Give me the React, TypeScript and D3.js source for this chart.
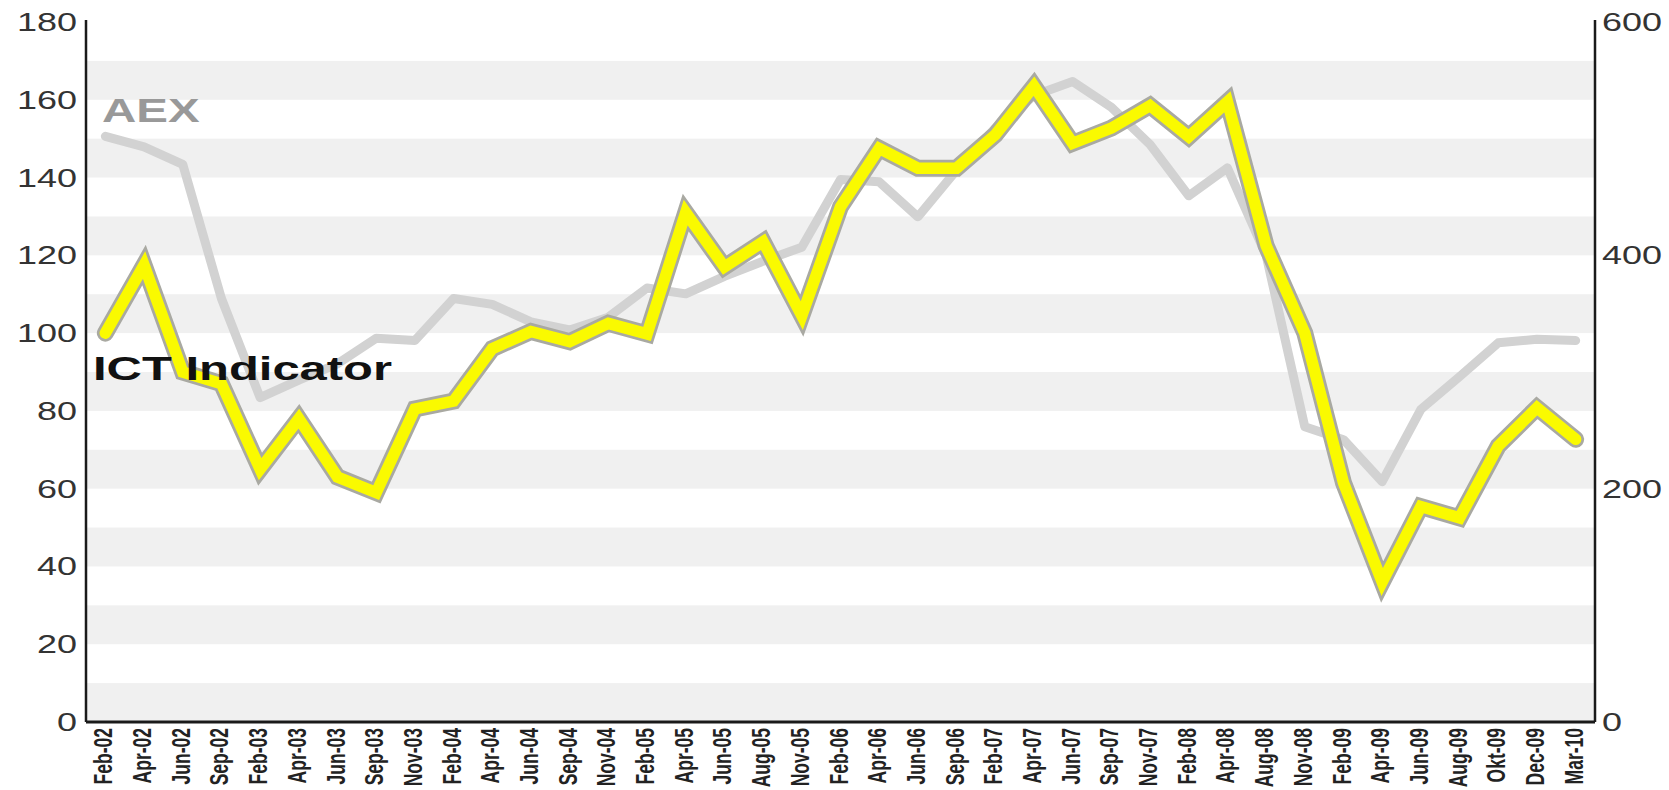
import React from "react";
import * as d3 from "d3";

// categories along the bottom
const months = [
  "Feb-02", "Apr-02", "Jun-02", "Sep-02", "Feb-03", "Apr-03", "Jun-03", "Sep-03",
  "Nov-03", "Feb-04", "Apr-04", "Jun-04", "Sep-04", "Nov-04", "Feb-05", "Apr-05",
  "Jun-05", "Aug-05", "Nov-05", "Feb-06", "Apr-06", "Jun-06", "Sep-06", "Feb-07",
  "Apr-07", "Jun-07", "Sep-07", "Nov-07", "Feb-08", "Apr-08", "Aug-08", "Nov-08",
  "Feb-09", "Apr-09", "Jun-09", "Aug-09", "Okt-09", "Dec-09", "Mar-10",
];

// ICT Indicator (left axis)
const ictValues = [
  100, 117.5, 90, 87, 65, 78, 63, 59,
  80.5, 82.5, 96, 100.4, 97.8, 102.5, 99.8, 131,
  117, 123.5, 104.5, 132.5, 147.5, 142.4, 142.4, 151,
  163.5, 148.8, 152.7, 158.5, 150.5, 159.5, 122.5, 100,
  61.5, 36, 55.4, 52.5, 71, 80.8, 72.7,
];

// AEX (right axis)
const aexValues = [
  502, 493, 478, 363, 278, 293, 307, 329,
  327, 363, 358, 343, 336, 347, 372, 367,
  382, 395, 407, 465, 463, 433, 473, 509,
  537, 549, 527, 495, 451, 475, 400, 253,
  242, 206, 268, 296, 325, 328, 327,
];

const leftTicks = [0, 20, 40, 60, 80, 100, 120, 140, 160, 180];
const rightTicks = [0, 200, 400, 600];
const bandStarts = [0, 20, 40, 60, 80, 100, 120, 140, 160];

const W = 1669;
const H = 790;
const left = 86;
const right = 1595;
const top = 22;
const bottom = 722;
const stretch = 1.44; // the original picture is wide-stretched
const font = "'Liberation Sans', Arial, sans-serif";

export default function App() {
  const x = d3.scaleBand<string>().domain(months).range([left, right]).padding(0);
  const cx = (m: string) => (x(m) ?? 0) + x.bandwidth() / 2;
  const yL = d3.scaleLinear().domain([0, 180]).range([bottom, top]);
  const yR = d3.scaleLinear().domain([0, 600]).range([bottom, top]);

  const ictLine = d3
    .line<number>()
    .x((_, i) => cx(months[i]))
    .y((d) => yL(d));
  const aexLine = d3
    .line<number>()
    .x((_, i) => cx(months[i]))
    .y((d) => yR(d));

  return (
    <svg
      width={W}
      height={H}
      style={{ position: "absolute", left: 0, top: 0, background: "#fff" }}
      fontFamily={font}
    >
      {/* striped background */}
      {bandStarts.map((b) => (
        <rect
          key={b}
          x={left}
          y={yL(b + 10)}
          width={right - left}
          height={yL(b) - yL(b + 10)}
          fill="#f0f0f0"
        />
      ))}

      {/* AEX */}
      <path
        d={aexLine(aexValues) ?? ""}
        fill="none"
        stroke="#d2d2d2"
        strokeWidth={9}
        strokeLinecap="round"
        strokeLinejoin="round"
      />

      {/* ICT Indicator with grey outline */}
      <path
        d={ictLine(ictValues) ?? ""}
        fill="none"
        stroke="#a9a9a2"
        strokeWidth={17}
        strokeLinecap="round"
        strokeLinejoin="miter"
        strokeMiterlimit={2.5}
      />
      <path
        d={ictLine(ictValues) ?? ""}
        fill="none"
        stroke="#fafa00"
        strokeWidth={11.5}
        strokeLinecap="round"
        strokeLinejoin="miter"
        strokeMiterlimit={2.5}
      />

      {/* axes */}
      <line x1={left} x2={left} y1={20} y2={bottom} stroke="#1a1a1a" strokeWidth={2.5} />
      <line x1={right} x2={right} y1={20} y2={bottom} stroke="#1a1a1a" strokeWidth={2.5} />
      <line x1={left} x2={right} y1={bottom} y2={bottom} stroke="#1a1a1a" strokeWidth={3} />

      {leftTicks.map((t) => (
        <text
          key={t}
          transform={`translate(${left - 9},${yL(t) + 9}) scale(${stretch},1)`}
          textAnchor="end"
          fontSize={25}
          fill="#333"
        >
          {t}
        </text>
      ))}
      {rightTicks.map((t) => (
        <text
          key={t}
          transform={`translate(${right + 7},${yR(t) + 9}) scale(${stretch},1)`}
          textAnchor="start"
          fontSize={25}
          fill="#333"
        >
          {t}
        </text>
      ))}

      {months.map((m) => (
        <text
          key={m}
          transform={`translate(${cx(m) + 7},${bottom + 6}) scale(${stretch},1) rotate(-90)`}
          textAnchor="end"
          fontSize={17.5}
          fontWeight="bold"
          fill="#222"
        >
          {m}
        </text>
      ))}

      {/* series labels */}
      <text
        transform={`translate(102,122) scale(${stretch},1)`}
        fontSize={33}
        fontWeight="bold"
        fill="#999"
      >
        AEX
      </text>
      <text
        transform={`translate(93,380) scale(${stretch},1)`}
        fontSize={34}
        fontWeight="bold"
        fill="#111"
      >
        ICT Indicator
      </text>
    </svg>
  );
}
